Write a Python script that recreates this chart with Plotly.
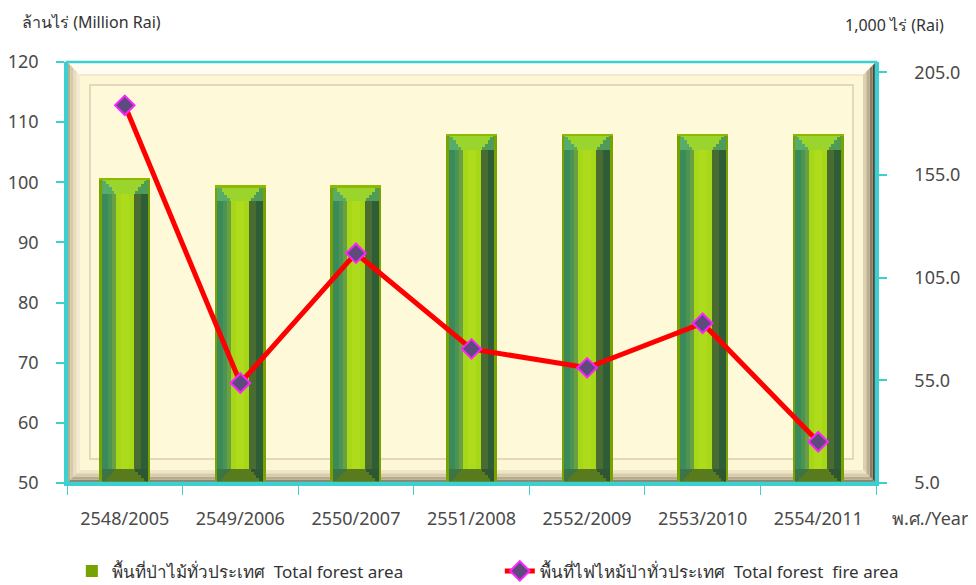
import plotly.graph_objects as go

# ---------------- data ----------------
years = ["2548/2005", "2549/2006", "2550/2007", "2551/2008",
         "2552/2009", "2553/2010", "2554/2011"]
forest_area = [100.7, 99.5, 99.5, 108.0, 108.0, 108.0, 108.0]      # million rai
fire_area = [188.9, 53.7, 116.9, 70.3, 61.1, 82.8, 25.1]           # 1,000 rai

left_ticks = [50, 60, 70, 80, 90, 100, 110, 120]
right_ticks = [5, 55, 105, 155, 205]

name_forest = "พื้นที่ป่าไม้ทั่วประเทศ  Total forest area"
name_fire = "พื้นที่ไฟไหม้ป่าทั่วประเทศ  Total forest  fire area"

FONT = "Noto Sans, DejaVu Sans, sans-serif"
CYAN = "#3ECFD0"
TXT = "#4A4A4A"

fig = go.Figure()

# ---------- 3D-looking bars built from overlaid bar layers ----------
PX = 115.6          # pixels per category
BASE = 50.0
CAP = 2.6           # bevel cap height (axis units)
HW = 25.5           # half width in px
IN = 23.0           # inner edge (inside the olive border)
CW = 9.0            # half width of lime centre strip

def seg(a, b):
    return dict(offset=a / PX, width=(b - a) / PX)

def add_layer(a, b, col, y, base, legend=False):
    fig.add_trace(go.Bar(
        x=years, y=y, base=base,
        marker=dict(color=col, line=dict(width=0)),
        name=name_forest, showlegend=legend, legendgroup="forest",
        legend="legend", hoverinfo="skip", **seg(a, b)))

n = len(years)
body_h = [v - BASE for v in forest_area]
body_layers = [
    (-HW, HW, "#78A200"),
    (-IN, -17.0, "#3A8A5C"),
    (-17.0, -13.0, "#4C9452"),
    (-13.0, -CW, "#6A9F44"),
    (-CW, CW, "#A6D817"),
    (-4.0, 4.0, "#AEDC1C"),
    (CW, 16.0, "#4B6C31"),
    (16.0, IN, "#2D5E37"),
]
for i, (a, b, col) in enumerate(body_layers):
    add_layer(a, b, col, body_h, [BASE] * n, legend=(i == 0))

# top bevel (stepped trapezoid)
steps = 5
sh = CAP / steps
for k in range(steps):
    frac = (k + 0.5) / steps
    half = CW + (IN - CW) * frac
    base = [v - CAP + k * sh for v in forest_area]
    add_layer(-IN, 0.0, "#58AC6A", [sh] * n, base)
    add_layer(0.0, IN, "#4F9C58", [sh] * n, base)
    add_layer(-half, half, "#9BD42C", [sh] * n, base)
add_layer(-HW, HW, "#8DBA00", [0.3] * n, [v - 0.3 for v in forest_area])

# bottom bevel (stepped trapezoid, dark olive)
for k in range(steps):
    frac = 1 - (k + 0.5) / steps
    half = CW + (IN - CW) * frac
    base = [BASE - 0.2 + k * sh] * n
    add_layer(-IN, 0.0, "#3C7446", [sh] * n, base)
    add_layer(0.0, IN, "#2E5632", [sh] * n, base)
    add_layer(-half, half, "#5A7A1E", [sh] * n, base)

# ---------------- fire line ----------------
fig.add_trace(go.Scatter(
    x=years, y=fire_area, yaxis="y2", mode="lines+markers", name=name_fire,
    legend="legend2",
    line=dict(color="#FF0000", width=5),
    marker=dict(symbol="diamond", size=15, color="#5E4B7E",
                line=dict(color="#FF22FF", width=2))))

# ---------------- frame (bevelled panel) ----------------
W, H = 809.0, 421.0
def fx(p): return p / W
def fy(p): return p / H

shapes = []
def poly(pts, col):
    path = "M " + " L ".join(f"{x:.5f},{y:.5f}" for x, y in pts) + " Z"
    shapes.append(dict(type="path", xref="paper", yref="paper", path=path,
                       fillcolor=col, line=dict(width=0), layer="below"))

d = 13  # bevel width px
poly([(0, 1), (1, 1), (1 - fx(d), 1 - fy(d)), (fx(d), 1 - fy(d))], "#FFFDF2")
for i, col in enumerate(["#BFAE8E", "#D6C8A8", "#E8DCC0", "#F4EBD2"]):
    a = d * i / 4.0
    b = d * (i + 1) / 4.0
    poly([(fx(a), fy(a)), (fx(a), 1 - fy(a)), (fx(b), 1 - fy(b)), (fx(b), fy(b))], col)
for i, col in enumerate(["#4E483C", "#8A7E68", "#BDAE90", "#DCCFB2"]):
    a = d * i / 4.0
    b = d * (i + 1) / 4.0
    poly([(1 - fx(a), fy(a)), (1 - fx(a), 1 - fy(a)), (1 - fx(b), 1 - fy(b)), (1 - fx(b), fy(b))], col)
for i, col in enumerate(["#8E846E", "#B8AA8C", "#D8CCAE", "#EEE4C8"]):
    a = d * i / 4.0
    b = d * (i + 1) / 4.0
    poly([(fx(a), fy(a)), (1 - fx(a), fy(a)), (1 - fx(b), fy(b)), (fx(b), fy(b))], col)
shapes.append(dict(type="line", xref="paper", yref="paper", x0=fx(d), x1=1 - fx(d),
                   y0=1 - fy(d), y1=1 - fy(d), line=dict(color="#EDE3C8", width=1.5),
                   layer="below"))

ix0, ix1 = fx(91 - 67), fx(852 - 67)
iy0, iy1 = fy(483 - 458), fy(483 - 86)
shapes.append(dict(type="rect", xref="paper", yref="paper", x0=ix0 - fx(2), x1=ix1 + fx(2),
                   y0=iy0 - fy(2), y1=iy1 + fy(2), fillcolor="#E3D8BC",
                   line=dict(width=0), layer="below"))
shapes.append(dict(type="rect", xref="paper", yref="paper", x0=ix0, x1=ix1,
                   y0=iy0, y1=iy1, fillcolor="#FEF9D8",
                   line=dict(width=0), layer="below"))
shapes.append(dict(type="rect", xref="paper", yref="paper", x0=0, x1=1, y0=0, y1=1,
                   line=dict(color=CYAN, width=2.5), fillcolor="rgba(0,0,0,0)",
                   layer="above"))

# ---------------- layout ----------------
# (page body adds an 8px offset, so the figure is 8px smaller and shifted)
fig.update_layout(
    width=968, height=577,
    margin=dict(l=59, r=100, t=54, b=102, autoexpand=False),
    paper_bgcolor="white", plot_bgcolor="#FDF7D6",
    barmode="overlay", bargap=0,
    font=dict(family=FONT, color=TXT, size=16),
    shapes=shapes,
    xaxis=dict(
        type="category", showgrid=False, showline=True, linecolor=CYAN, linewidth=2.5,
        ticks="outside", ticklen=9, tickcolor=CYAN, tickwidth=1.2,
        tickson="boundaries", tickfont=dict(size=18, color=TXT),
        ticklabelstandoff=18, range=[-0.5, 6.5], automargin=False),
    yaxis=dict(
        range=[50, 120], tickvals=left_ticks, showgrid=False, zeroline=False,
        showline=True, linecolor=CYAN, linewidth=2.5,
        ticks="outside", ticklen=8, tickcolor=CYAN, tickwidth=1.5,
        tickfont=dict(size=18, color=TXT), ticklabelstandoff=14, automargin=False),
    yaxis2=dict(
        range=[5, 210], tickvals=right_ticks, tickformat=".1f", overlaying="y",
        side="right", showgrid=False, zeroline=False,
        showline=True, linecolor=CYAN, linewidth=2.5,
        ticks="outside", ticklen=8, tickcolor=CYAN, tickwidth=1.5,
        tickfont=dict(size=18, color=TXT), ticklabelstandoff=24, automargin=False),
    legend=dict(orientation="h", x=0.006, xanchor="left", y=-0.21, yanchor="middle",
                font=dict(size=17, color="#333333"), bgcolor="rgba(0,0,0,0)"),
    legend2=dict(orientation="h", x=0.535, xanchor="left", y=-0.21, yanchor="middle",
                 font=dict(size=17, color="#333333"), bgcolor="rgba(0,0,0,0)"),
    annotations=[
        dict(text="ล้านไร่ (Million Rai)", xref="paper", yref="paper",
             x=-0.058, y=1.095, xanchor="left", yanchor="middle", showarrow=False,
             font=dict(size=16, color="#333333")),
        dict(text="1,000 ไร่ (Rai)", xref="paper", yref="paper",
             x=1.087, y=1.088, xanchor="right", yanchor="middle", showarrow=False,
             font=dict(size=16, color="#333333")),
        dict(text="พ.ศ./Year", xref="paper", yref="paper",
             x=1.017, y=-0.083, xanchor="left", yanchor="middle", showarrow=False,
             font=dict(size=18, color=TXT)),
    ],
)

fig.write_html("out.html")
